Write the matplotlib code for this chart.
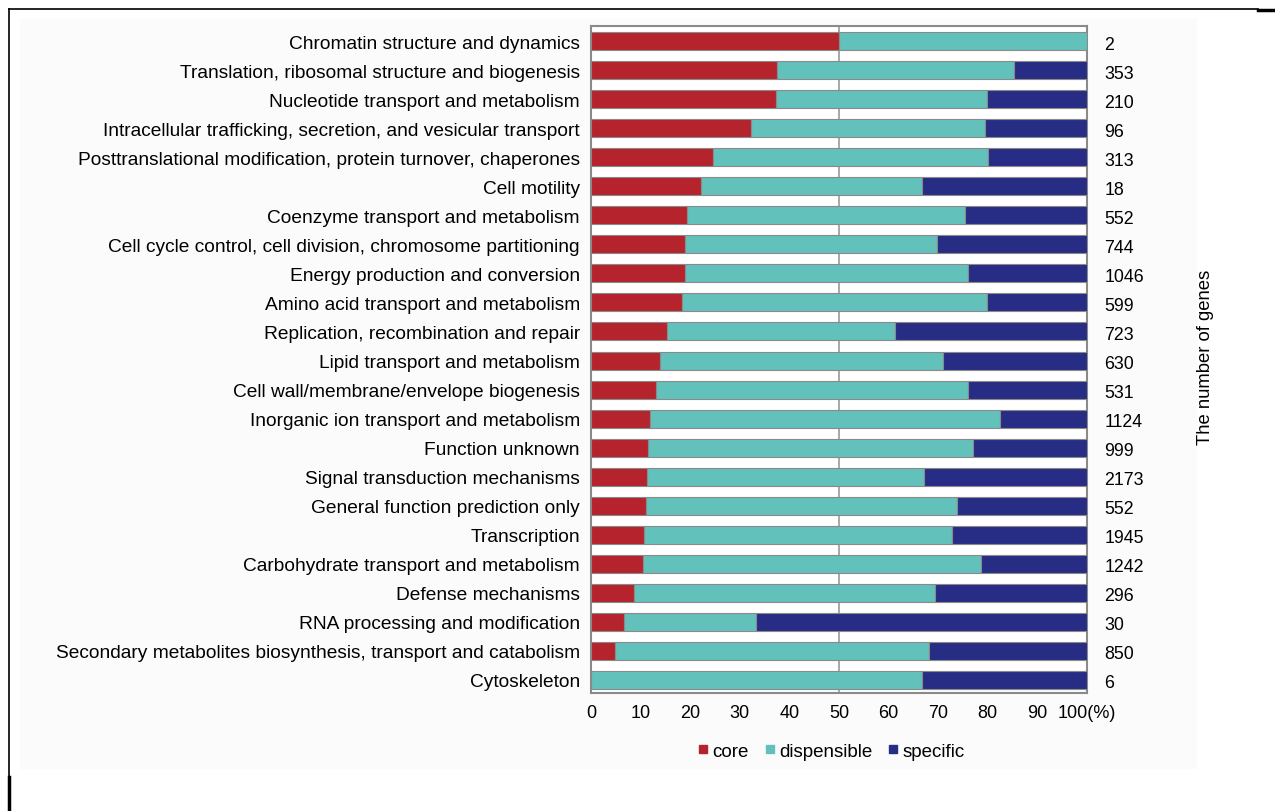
import matplotlib.pyplot as plt
from matplotlib.lines import Line2D
from matplotlib.patches import Rectangle

plt.rcParams['font.family'] = ['Liberation Sans', 'DejaVu Sans']

categories = [
    'Chromatin structure and dynamics',
    'Translation, ribosomal structure and biogenesis',
    'Nucleotide transport and metabolism',
    'Intracellular trafficking, secretion, and vesicular transport',
    'Posttranslational modification, protein turnover, chaperones',
    'Cell motility',
    'Coenzyme transport and metabolism',
    'Cell cycle control, cell division, chromosome partitioning',
    'Energy production and conversion',
    'Amino acid transport and metabolism',
    'Replication, recombination and repair',
    'Lipid transport and metabolism',
    'Cell wall/membrane/envelope biogenesis',
    'Inorganic ion transport and metabolism',
    'Function unknown',
    'Signal transduction mechanisms',
    'General function prediction only',
    'Transcription',
    'Carbohydrate transport and metabolism',
    'Defense mechanisms',
    'RNA processing and modification',
    'Secondary metabolites biosynthesis, transport and catabolism',
    'Cytoskeleton',
]
# percentages
core = [50.0, 37.4, 37.2, 32.2, 24.5, 22.2, 19.3, 19.0, 18.9, 18.3, 15.4, 13.9,
        13.1, 11.8, 11.5, 11.3, 11.0, 10.7, 10.4, 8.7, 6.7, 4.9, 0.0]
dispensible = [50.0, 47.8, 42.6, 47.2, 55.5, 44.5, 56.2, 50.7, 57.2, 61.6, 45.9, 57.1,
               63.0, 70.6, 65.5, 55.8, 62.7, 62.1, 68.3, 60.7, 26.6, 63.2, 66.7]
specific = [0.0, 14.8, 20.2, 20.6, 20.0, 33.3, 24.5, 30.3, 23.9, 20.1, 38.7, 29.0,
            23.9, 17.6, 23.0, 32.9, 26.3, 27.2, 21.3, 30.6, 66.7, 31.9, 33.3]
n_genes = [2, 353, 210, 96, 313, 18, 552, 744, 1046, 599, 723, 630, 531, 1124,
           999, 2173, 552, 1945, 1242, 296, 30, 850, 6]
ticks = [0, 10, 20, 30, 40, 50, 60, 70, 80, 90, 100]
tick_labels = ['0', '10', '20', '30', '40', '50', '60', '70', '80', '90', '100(%)']

c_core = '#b5232c'
c_disp = '#62c1bb'
c_spec = '#272c85'

fig = plt.figure(figsize=(12.75, 8.12), dpi=100)

# light background panel and screenshot frame lines
fig.patches.append(Rectangle((20 / 1275, 1 - 769 / 812), 1176 / 1275, 749 / 812,
                             transform=fig.transFigure, color='#fbfbfb', zorder=-2))
fig.add_artist(Line2D([9 / 1275, 1258 / 1275], [1 - 10 / 812] * 2, color='black', lw=1.2,
                      transform=fig.transFigure))
fig.add_artist(Line2D([1258 / 1275, 1], [1 - 11 / 812] * 2, color='black', lw=2.5,
                      transform=fig.transFigure))
fig.add_artist(Line2D([9 / 1275] * 2, [1 - 10 / 812, 1 - 780 / 812], color='black', lw=1.2,
                      transform=fig.transFigure))
fig.add_artist(Line2D([9 / 1275] * 2, [1 - 778 / 812, 0], color='black', lw=2.5,
                      transform=fig.transFigure))

ax = fig.add_axes([591 / 1275, 1 - 694 / 812, 496 / 1275, 667 / 812])
ax.set_facecolor('white')

y = list(range(len(categories)))
left2 = [a + b for a, b in zip(core, dispensible)]
ax.barh(y, core, height=0.62, color=c_core, edgecolor='#8a8a8a', linewidth=0.8, zorder=3)
ax.barh(y, dispensible, left=core, height=0.62, color=c_disp, edgecolor='#8a8a8a',
        linewidth=0.8, zorder=3)
ax.barh(y, specific, left=left2, height=0.62, color=c_spec, edgecolor='#8a8a8a',
        linewidth=0.8, zorder=3)

ax.axvline(50, color='#9a9a9a', lw=1.2, zorder=1)

ax.set_xlim(0, 100)
ax.set_ylim(len(categories) - 1 + 0.45, -0.52)
ax.set_yticks(y)
ax.set_yticklabels(categories, fontsize=13.8)
ax.set_xticks(ticks)
ax.set_xticklabels(tick_labels, fontsize=13)
ax.tick_params(axis='both', length=0)
ax.tick_params(axis='y', pad=8)
ax.tick_params(axis='x', pad=8)
for s in ax.spines.values():
    s.set_color('#8a8a8a')
    s.set_linewidth(1.5)

for yi, n in zip(y, n_genes):
    ax.text(103.5, yi + 0.1, str(n), va='center', ha='left', fontsize=12.8)

fig.text(1205 / 1275, 1 - 357 / 812, 'The number of genes', rotation=90,
         va='center', ha='center', fontsize=13.3)

handles = [Line2D([], [], marker='s', ls='none', color=c, markersize=6)
           for c in (c_core, c_disp, c_spec)]
fig.legend(handles, ['core', 'dispensible', 'specific'], loc='center',
           bbox_to_anchor=(830 / 1275, 1 - 752 / 812), ncol=3, frameon=False,
           fontsize=13.5, handletextpad=0.1, columnspacing=0.7, handlelength=0.8)

fig.savefig('out.png', dpi=100)
